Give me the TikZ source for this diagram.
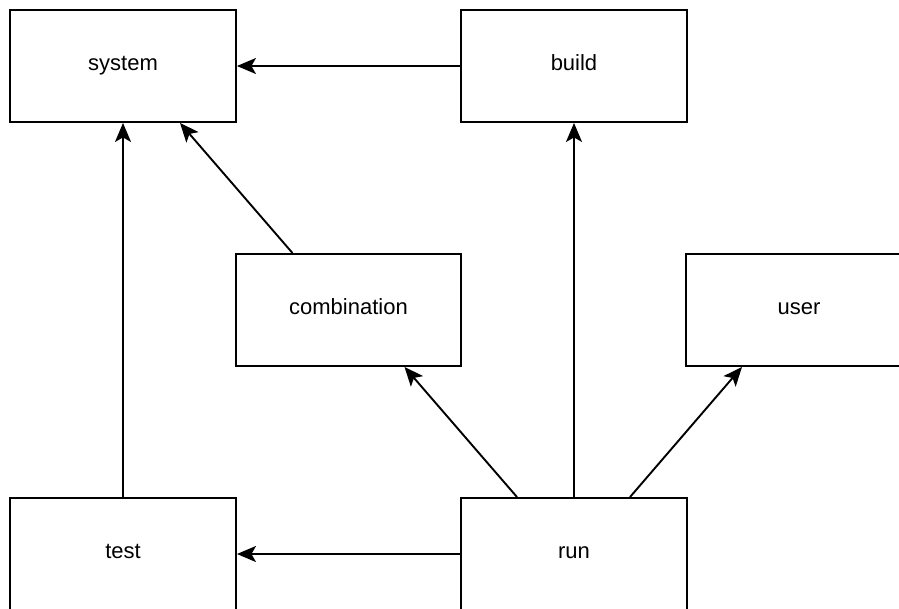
\documentclass[tikz,border=0pt]{standalone}
\usepackage{fontspec}
\setmainfont{Liberation Sans}
\usetikzlibrary{arrows.meta}
\tikzset{
  box/.style={draw=black, line width=1.9pt, fill=white, rectangle,
    minimum width=226pt, minimum height=112pt, inner sep=0pt,
    text height=13pt, text depth=5pt,
    font=\fontsize{22}{24}\selectfont},
  link/.style={line width=1.9pt, -{Stealth[length=19pt, width=16pt, inset=4.5pt]}},
}
\begin{document}
\begin{tikzpicture}[x=1pt, y=-1pt]
  \useasboundingbox (0,0) rectangle (899,608);
  \fill[white] (0,0) rectangle (899,608);

  % boxes, centres in pixel-like units
  \node[box] (system)      at (123,66)  {system};
  \node[box] (build)       at (574,66)  {build};
  \node[box, minimum width=225pt] (combination) at (348.5,310) {combination};
  \node[box] (user)        at (799,310) {user};
  \node[box] (test)        at (123,554) {test};
  \node[box] (run)         at (574,554) {run};

  % connectors
  \draw[link] (build.west) -- (system.east);
  \draw[link] ([xshift=-56pt]combination.north) -- ([xshift=57pt]system.south);
  \draw[link] (test.north) -- (system.south);
  \draw[link] (run.north) -- (build.south);
  \draw[link] ([xshift=-57pt]run.north) -- ([xshift=56pt]combination.south);
  \draw[link] ([xshift=56pt]run.north) -- ([xshift=-57pt]user.south);
  \draw[link] (run.west) -- (test.east);
\end{tikzpicture}
\end{document}
